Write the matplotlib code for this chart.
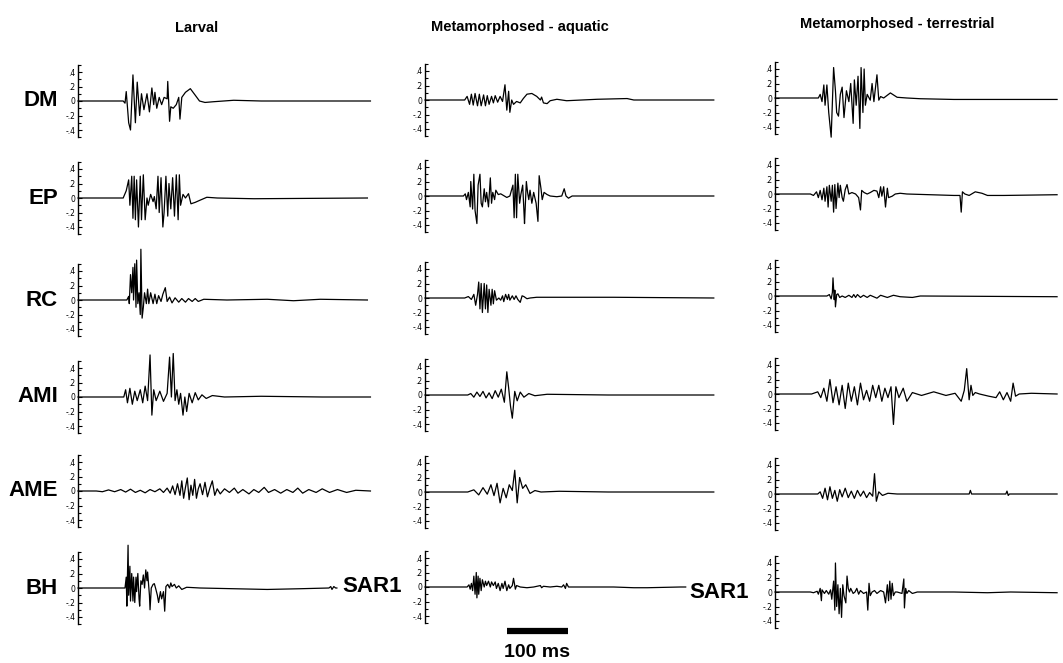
import matplotlib.pyplot as plt
from matplotlib.ticker import FixedLocator

# EMG traces: (time in ms, amplitude) pairs
columns = ["Larval", "Metamorphosed - aquatic", "Metamorphosed - terrestrial"]
muscles = ["DM", "EP", "RC", "AMI", "AME", "BH"]
tick_vals = [-0.4, -0.2, 0, 0.2, 0.4]
tick_text = ["-.4", "-.2", "0", ".2", ".4"]
scale_bar_ms = 100
scale_bar_start = 134

DM_larval = [(0,0),(74,0),(77,-0.03),(79,0.13),(83,-0.3),(86,-0.4),(90,0.36),(94,-0.3),(97,0.26),(101,-0.2),(104,0.1),(108,-0.12),(113,0.1),(117,-0.15),(121,0.18),(124,-0.05),(126,0.12),(129,-0.1),(133,0.05),(137,-0.05),(141,0.05),(146,0.03),(147,0.27),(150,-0.28),(152,-0.08),(156,-0.1),(161,-0.05),(165,0.05),(167,-0.25),(170,0.05),(176,0.12),(184,0.17),(192,0.08),(199,0.0),(208,-0.02),(222,-0.01),(255,0.01),(300,0),(479,0)]
EP_larval = [(0,0),(74,0),(79,0.1),(83,0.25),(85,-0.1),(88,0.3),(90,-0.28),(92,0.3),(94,-0.3),(96,0.25),(99,-0.4),(102,0.3),(104,-0.3),(107,0.32),(110,-0.3),(113,0.0),(115,-0.1),(119,0.05),(123,-0.05),(125,0.02),(128,-0.15),(131,0.3),(133,-0.2),(136,0.28),(139,-0.4),(141,-0.2),(144,0.3),(147,-0.25),(149,0.2),(152,-0.15),(155,0.28),(158,-0.25),(161,0.32),(164,-0.3),(166,0.32),(168,-0.1),(172,0.05),(176,0.0),(181,0.06),(185,-0.08),(192,-0.06),(200,-0.03),(211,0.01),(228,0),(288,-0.01),(474,0)]
RC_larval = [(0,0),(80,0),(83,0.05),(84,-0.05),(86,0.35),(88,0.1),(90,0.45),(91,0.0),(93,0.5),(95,-0.1),(96,0.55),(98,-0.05),(100,0.1),(102,-0.2),(103,0.7),(105,-0.25),(107,-0.1),(109,0.1),(112,-0.05),(114,0.15),(116,-0.05),(119,0.1),(123,-0.05),(126,0.08),(129,-0.05),(132,0.06),(136,-0.02),(139,0.08),(143,0.17),(146,-0.02),(150,0.04),(154,-0.04),(159,0.03),(165,-0.03),(170,0.02),(176,-0.03),(181,0.02),(187,-0.02),(192,0.02),(197,-0.02),(206,0.01),(244,0.0),(310,0.01),(353,-0.01),(397,0.01),(474,0)]
AMI_larval = [(0,0),(75,0),(78,0.1),(81,-0.08),(85,0.12),(89,-0.1),(93,0.08),(97,-0.05),(102,0.1),(106,-0.08),(110,0.15),(114,-0.05),(118,0.58),(121,-0.25),(124,0.1),(128,-0.05),(134,0.08),(140,-0.06),(146,0.05),(150,0.55),(153,0.0),(156,0.6),(159,-0.05),(162,0.1),(165,-0.1),(168,0.05),(172,-0.25),(175,0.0),(178,-0.2),(182,0.05),(187,-0.08),(192,0.06),(197,-0.04),(203,0.03),(210,-0.02),(220,0.02),(240,0.0),(300,0.01),(400,0),(479,0)]
AME_larval = [(0,0),(30,0.0),(40,-0.01),(50,0.015),(60,-0.01),(70,0.02),(78,-0.015),(86,0.025),(94,-0.02),(102,0.01),(110,-0.025),(118,0.02),(126,-0.01),(134,0.03),(140,-0.02),(146,0.04),(151,-0.03),(155,0.07),(159,-0.05),(163,0.1),(167,-0.06),(170,0.14),(173,-0.1),(176,0.05),(179,0.18),(182,-0.12),(185,0.08),(188,-0.06),(191,0.16),(194,-0.1),(197,0.03),(200,0.1),(204,-0.05),(208,0.12),(212,-0.08),(216,0.04),(220,0.14),(224,-0.06),(228,0.03),(233,-0.04),(240,0.03),(248,-0.02),(256,0.04),(262,-0.03),(270,0.02),(280,-0.04),(288,0.02),(296,-0.02),(305,0.05),(312,-0.02),(322,0.02),(332,-0.03),(342,0.02),(352,-0.02),(360,0.04),(368,-0.03),(378,0.02),(390,-0.02),(400,0.03),(412,-0.02),(425,0.02),(440,-0.02),(455,0.01),(479,0)]
BH_larval = [(0,0),(77,0),(79,0.15),(80,-0.25),(82,0.59),(83,-0.1),(85,0.3),(86,-0.18),(88,0.2),(90,-0.18),(91,0.15),(93,-0.2),(95,0.15),(96,-0.05),(98,0.2),(100,-0.15),(101,-0.25),(103,0.1),(105,0.05),(107,0.18),(109,0.0),(111,0.25),(113,0.1),(114,0.22),(117,-0.1),(118,-0.3),(120,0.0),(123,0.05),(125,0.06),(127,0.0),(130,-0.1),(132,-0.2),(135,-0.05),(137,-0.15),(140,-0.05),(142,-0.32),(144,0.02),(147,0.05),(150,0.0),(152,0.07),(154,0.02),(158,0.05),(161,0.0),(165,0.03),(170,-0.02),(178,0.01),(200,0),(255,-0.01),(310,-0.02),(364,-0.01),(411,0),(414,0.02),(416,-0.02),(419,0.02),(422,0),(424,0)]

DM_aquatic = [(0,0),(65,0),(69,0.05),(73,-0.06),(76,0.08),(79,-0.07),(82,0.09),(86,-0.08),(89,0.08),(92,-0.08),(96,0.07),(99,-0.08),(102,0.06),(105,-0.06),(109,0.05),(112,-0.04),(115,0.06),(119,-0.03),(123,0.05),(127,-0.02),(131,0.21),(134,-0.14),(137,0.12),(139,-0.17),(142,0.0),(145,-0.06),(150,-0.02),(156,-0.04),(161,0.02),(167,0.08),(175,0.09),(183,0.05),(189,0.0),(191,0.04),(194,-0.04),(200,-0.05),(205,-0.01),(216,0.01),(232,-0.01),(282,0.01),(331,0.02),(342,0),(473,0)]
EP_aquatic = [(0,0),(63,0),(66,0.03),(68,-0.05),(71,0.05),(74,-0.15),(75,0.2),(78,-0.18),(80,0.3),(82,-0.2),(85,-0.38),(87,0.15),(90,0.3),(92,-0.1),(94,-0.15),(97,0.1),(99,-0.08),(101,0.05),(104,-0.15),(107,0.25),(109,-0.1),(111,0.05),(114,-0.05),(116,0.08),(120,0.02),(124,0.03),(128,0.01),(134,-0.02),(139,0.0),(144,0.15),(146,-0.3),(148,0.3),(150,-0.3),(152,0.3),(155,-0.1),(157,0.02),(160,0.15),(162,-0.2),(163,-0.38),(166,0.2),(168,0.05),(170,-0.05),(172,0.08),(175,-0.1),(178,0.05),(182,-0.1),(185,-0.35),(187,0.28),(190,0.1),(192,-0.05),(195,0.05),(200,0.02),(205,0.0),(216,-0.01),(224,0.0),(228,0.1),(231,0.0),(235,-0.03),(241,0.0),(265,0),(473,0)]
RC_aquatic = [(0,0),(65,0),(71,0.02),(76,-0.02),(80,0.05),(83,-0.1),(86,0.05),(88,0.22),(90,-0.15),(92,0.2),(94,-0.2),(97,0.2),(99,-0.15),(101,0.18),(103,-0.2),(105,0.12),(108,-0.1),(110,0.12),(112,-0.08),(114,0.1),(117,-0.03),(121,0.0),(124,-0.03),(127,0.03),(129,-0.05),(132,0.05),(135,-0.02),(137,0.05),(139,-0.03),(143,0.03),(146,-0.02),(149,0.03),(152,-0.02),(156,-0.06),(159,0.03),(162,0.02),(167,-0.01),(172,0.0),(183,0.01),(309,0.01),(473,0)]
AMI_aquatic = [(0,0),(70,0),(75,0.02),(80,-0.03),(85,0.04),(90,-0.02),(95,0.05),(100,-0.04),(105,0.03),(110,-0.05),(115,0.06),(120,-0.03),(125,0.08),(130,-0.1),(134,0.32),(137,0.1),(140,-0.15),(143,-0.32),(147,0.05),(151,-0.08),(156,0.04),(162,-0.03),(170,0.02),(180,-0.01),(200,0.01),(300,0),(473,0)]
AME_aquatic = [(0,0),(70,0),(80,0.03),(88,-0.04),(95,0.06),(102,-0.03),(108,0.1),(113,-0.05),(118,0.12),(123,-0.15),(128,0.05),(133,-0.08),(138,0.1),(143,0.02),(147,0.3),(151,-0.15),(155,0.2),(160,0.05),(165,0.1),(172,-0.02),(180,0.02),(190,0.0),(220,0.01),(300,0),(473,0)]
SAR1_aquatic = [(0,0),(69,0),(72,0.03),(74,-0.03),(76,0.05),(78,-0.05),(80,0.15),(82,-0.1),(84,0.2),(85,-0.15),(87,0.15),(88,-0.1),(90,0.12),(92,-0.05),(94,0.1),(97,0.0),(99,0.08),(101,0.02),(104,0.08),(107,0.0),(109,0.07),(112,0.02),(115,0.07),(117,-0.02),(120,0.05),(123,-0.05),(126,0.05),(128,-0.02),(131,0.08),(134,-0.05),(137,0.03),(139,-0.02),(143,0.02),(145,0.12),(148,-0.03),(150,0.02),(156,0.0),(167,-0.01),(178,0),(189,0.02),(191,-0.01),(194,0.01),(205,0),(216,0.01),(224,0),(227,0.03),(230,-0.02),(232,0.05),(235,0),(243,0),(309,0),(342,-0.01),(364,-0.01),(418,0),(427,0)]

DM_terrestrial = [(0,0),(71,0),(74,0.05),(77,-0.05),(80,0.18),(82,-0.1),(85,0.18),(88,-0.2),(92,-0.54),(96,0.42),(99,0.1),(101,-0.2),(104,-0.25),(107,0.05),(110,0.15),(113,-0.27),(117,0.1),(121,-0.05),(124,0.2),(128,-0.35),(130,0.25),(133,-0.1),(136,0.3),(139,-0.42),(141,0.42),(144,-0.2),(146,0.4),(148,-0.1),(151,0.05),(156,-0.03),(159,0.2),(162,-0.05),(164,0.1),(167,0.32),(170,-0.03),(173,0.02),(178,0.0),(189,0.07),(200,0.01),(216,0.0),(238,-0.01),(293,-0.02),(462,-0.02)]
EP_terrestrial = [(0,0),(58,0),(63,-0.02),(68,0.03),(71,-0.05),(74,0.05),(77,-0.08),(80,0.08),(82,-0.1),(85,0.1),(87,-0.18),(89,0.12),(92,-0.1),(94,0.12),(96,-0.25),(98,0.13),(100,-0.2),(103,0.15),(105,-0.05),(107,0.12),(110,-0.05),(112,-0.1),(115,0.06),(118,0.13),(121,0.0),(126,0.02),(132,0.0),(137,-0.05),(140,-0.22),(142,0.05),(146,0.02),(151,0.0),(156,0.02),(162,0.05),(167,0.04),(170,-0.05),(173,0.1),(175,-0.03),(178,0.1),(181,-0.18),(184,0.08),(186,-0.05),(192,-0.03),(197,0.0),(205,0.01),(216,0.0),(293,-0.02),(303,-0.02),(305,-0.25),(307,0.03),(311,0.0),(318,-0.02),(328,0.03),(339,0.01),(348,-0.02),(375,-0.02),(462,-0.01)]
RC_terrestrial = [(0,0),(85,0),(89,0.02),(92,-0.04),(94,0.05),(95,0.25),(97,-0.05),(98,0.08),(99,-0.15),(101,0.02),(103,0.03),(106,-0.02),(110,0.0),(115,-0.02),(121,0.01),(126,-0.02),(129,0.02),(132,-0.02),(135,0.02),(140,-0.02),(145,0.01),(151,-0.02),(156,0.01),(167,-0.03),(173,0.01),(184,-0.02),(194,0.01),(205,-0.01),(225,-0.02),(238,0.0),(462,-0.01)]
AMI_terrestrial = [(0,0),(60,0),(70,0.03),(75,-0.05),(80,0.08),(85,-0.1),(90,0.2),(95,-0.12),(100,0.1),(105,-0.15),(110,0.12),(115,-0.2),(120,0.15),(125,-0.1),(130,0.1),(135,-0.15),(140,0.15),(145,-0.08),(150,0.05),(155,-0.1),(160,0.12),(165,-0.05),(170,0.12),(175,-0.1),(180,0.08),(185,-0.05),(190,0.1),(194,-0.42),(198,0.1),(203,-0.05),(210,0.08),(216,-0.1),(225,0.02),(240,-0.02),(260,0.03),(280,-0.02),(295,0.01),(305,-0.1),(310,0.05),(314,0.35),(318,-0.08),(321,0.12),(324,-0.02),(328,0.02),(335,0.0),(350,-0.03),(362,-0.05),(368,0.03),(374,-0.08),(380,0.02),(386,-0.1),(390,0.15),(394,-0.03),(400,0.0),(420,0.01),(462,0)]
AME_terrestrial = [(0,0),(70,0),(74,0.03),(78,-0.06),(82,0.08),(86,-0.08),(90,0.1),(94,-0.06),(98,0.05),(102,-0.1),(106,0.06),(110,-0.04),(115,0.08),(120,-0.05),(125,0.04),(130,-0.06),(135,0.05),(140,-0.03),(145,0.04),(150,-0.05),(155,0.02),(160,-0.03),(163,0.28),(166,-0.1),(170,0.03),(176,-0.02),(185,0.01),(200,0),(300,0),(318,0),(320,0.05),(322,0),(378,0),(380,0.04),(382,-0.02),(384,0),(462,0)]
SAR1_terrestrial = [(0,0),(58,0),(63,-0.01),(69,0.01),(71,-0.03),(74,0.05),(76,-0.12),(77,0.03),(81,-0.02),(84,0.02),(88,-0.03),(91,0.03),(93,-0.1),(96,0.15),(98,-0.25),(99,0.4),(101,-0.2),(103,0.1),(105,-0.3),(107,0.05),(109,-0.35),(111,0.1),(113,-0.05),(116,-0.15),(118,0.22),(120,0.05),(122,0.0),(124,0.05),(128,-0.02),(131,0.0),(134,0.05),(137,-0.03),(140,0.02),(145,-0.02),(150,0.0),(152,-0.25),(154,0.12),(156,-0.05),(159,0.0),(163,0.02),(167,-0.02),(173,0.02),(178,0.0),(181,-0.15),(184,0.1),(186,-0.12),(188,0.15),(190,-0.1),(192,0.12),(194,-0.05),(197,0.0),(200,0.0),(208,-0.02),(211,0.18),(212,-0.22),(214,0.05),(216,-0.02),(219,0.02),(225,-0.02),(233,0.0),(293,0.0),(348,-0.01),(386,0.0),(462,-0.01)]

larval = [DM_larval, EP_larval, RC_larval, AMI_larval, AME_larval, BH_larval]
aquatic = [DM_aquatic, EP_aquatic, RC_aquatic, AMI_aquatic, AME_aquatic, SAR1_aquatic]
terrestrial = [DM_terrestrial, EP_terrestrial, RC_terrestrial, AMI_terrestrial, AME_terrestrial, SAR1_terrestrial]
all_traces = [larval, aquatic, terrestrial]
row_labels = [muscles, [""] * 5 + ["SAR1"], [""] * 5 + ["SAR1"]]

# layout in pixels
W, H = 1063, 663
col_x = [78, 425, 775]
row_y = [[101, 198, 300, 397, 491, 588],
         [100, 196, 298, 395, 492, 587],
         [98, 194, 296, 394, 494, 592]]
label_off = [-20, -23, -26]
title_x = [197, 520, 897]
title_y = [28, 27, 24]
ax_w = 290
unit_px = 72.5
half = 0.52 * unit_px

fig = plt.figure(figsize=(W / 100, H / 100), dpi=100)
fig.patch.set_facecolor("white")

for c in range(3):
    fig.text(title_x[c] / W, 1 - title_y[c] / H, columns[c], ha="center", va="center",
             fontsize=10.5, fontweight="bold", family="Liberation Sans")
    for r in range(6):
        y0 = row_y[c][r]
        ax = fig.add_axes([col_x[c] / W, 1 - (y0 + half) / H, ax_w / W, 2 * half / H])
        ax.set_xlim(0, 475)
        ax.set_ylim(-0.52, 0.52)
        ax.patch.set_visible(False)
        for s in ["top", "right", "bottom"]:
            ax.spines[s].set_visible(False)
        ax.spines["left"].set_bounds(-0.5, 0.5)
        ax.spines["left"].set_linewidth(1.0)
        ax.set_xticks([])
        ax.yaxis.set_major_locator(FixedLocator(tick_vals))
        ax.set_yticklabels(tick_text)
        ax.yaxis.set_minor_locator(FixedLocator([-0.5, -0.3, -0.1, 0.1, 0.3, 0.5]))
        ax.tick_params(axis="y", which="major", direction="in", length=3, width=0.8,
                       labelsize=5.5, pad=2)
        ax.tick_params(axis="y", which="minor", direction="in", length=2.5, width=0.8)

        t, v = zip(*all_traces[c][r])
        ax.plot(t, v, color="black", lw=0.9, clip_on=False)

        lab = row_labels[c][r]
        if lab:
            ax.text(label_off[c] / ax_w, 0, lab, transform=ax.get_yaxis_transform(),
                    ha="right", va="center", fontsize=16, fontweight="bold",
                    family="Liberation Sans")

        if c == 1 and r == 5:
            ax.plot([scale_bar_start, scale_bar_start + scale_bar_ms], [-0.61, -0.61],
                    color="black", lw=4.5, solid_capstyle="butt", clip_on=False)
            ax.text(scale_bar_start + scale_bar_ms / 2, -0.9, "100 ms", ha="center",
                    va="center", fontsize=14, fontweight="bold", family="Liberation Sans")

fig.savefig("out.png", dpi=100)
